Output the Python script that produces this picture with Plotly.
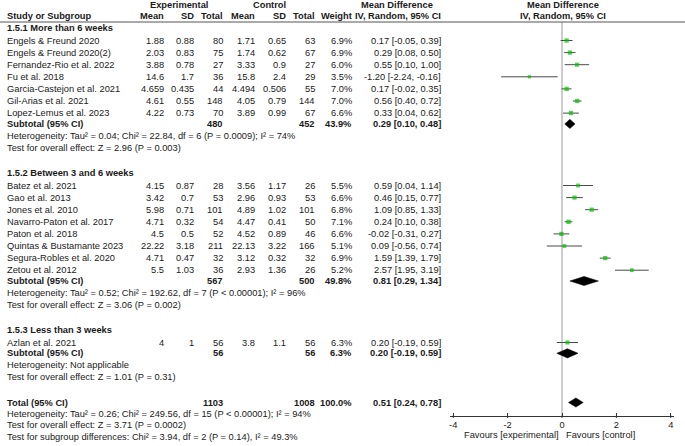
import plotly.graph_objects as go

# ---------------- data ----------------
names1 = ["Engels & Freund 2020", "Engels & Freund 2020(2)", "Fernandez-Rio et al. 2022",
          "Fu et al. 2018", "Garcia-Castejon et al. 2021", "Gil-Arias et al. 2021",
          "Lopez-Lemus et al. 2023"]
exp_mean1 = [1.88, 2.03, 3.88, 14.6, 4.659, 4.61, 4.22]
exp_sd1 = [0.88, 0.83, 0.78, 1.7, 0.435, 0.55, 0.73]
exp_n1 = [80, 75, 27, 36, 44, 148, 70]
ctl_mean1 = [1.71, 1.74, 3.33, 15.8, 4.494, 4.05, 3.89]
ctl_sd1 = [0.65, 0.62, 0.9, 2.4, 0.506, 0.79, 0.99]
ctl_n1 = [63, 67, 27, 29, 55, 144, 67]
weight1 = [6.9, 6.9, 6.0, 3.5, 7.0, 7.0, 6.6]
md1 = [0.17, 0.29, 0.55, -1.20, 0.17, 0.56, 0.33]
lo1 = [-0.05, 0.08, 0.10, -2.24, -0.02, 0.40, 0.04]
hi1 = [0.39, 0.50, 1.00, -0.16, 0.35, 0.72, 0.62]

names2 = ["Batez et al. 2021", "Gao et al. 2013", "Jones et al. 2010", "Navarro-Paton et al. 2017",
          "Paton et al. 2018", "Quintas & Bustamante 2023", "Segura-Robles et al. 2020",
          "Zetou et al. 2012"]
exp_mean2 = [4.15, 3.42, 5.98, 4.71, 4.5, 22.22, 4.71, 5.5]
exp_sd2 = [0.87, 0.7, 0.71, 0.32, 0.5, 3.18, 0.47, 1.03]
exp_n2 = [28, 53, 101, 54, 52, 211, 32, 36]
ctl_mean2 = [3.56, 2.96, 4.89, 4.47, 4.52, 22.13, 3.12, 2.93]
ctl_sd2 = [1.17, 0.93, 1.02, 0.41, 0.89, 3.22, 0.32, 1.36]
ctl_n2 = [26, 53, 101, 50, 46, 166, 32, 26]
weight2 = [5.5, 6.6, 6.8, 7.1, 6.6, 5.1, 6.9, 5.2]
md2 = [0.59, 0.46, 1.09, 0.24, -0.02, 0.09, 1.59, 2.57]
lo2 = [0.04, 0.15, 0.85, 0.10, -0.31, -0.56, 1.39, 1.95]
hi2 = [1.14, 0.77, 1.33, 0.38, 0.27, 0.74, 1.79, 3.19]

names3 = ["Azlan et al. 2021"]
exp_mean3 = [4]
exp_sd3 = [1]
exp_n3 = [56]
ctl_mean3 = [3.8]
ctl_sd3 = [1.1]
ctl_n3 = [56]
weight3 = [6.3]
md3 = [0.20]
lo3 = [-0.19]
hi3 = [0.59]

group_titles = ["1.5.1 More than 6 weeks", "1.5.2 Between 3 and 6 weeks", "1.5.3 Less than 3 weeks"]
sub_exp_n = [480, 567, 56]
sub_ctl_n = [452, 500, 56]
sub_weight = [43.9, 49.8, 6.3]
sub_md = [0.29, 0.81, 0.20]
sub_lo = [0.10, 0.29, -0.19]
sub_hi = [0.48, 1.34, 0.59]
sub_het = ["Heterogeneity: Tau² = 0.04; Chi² = 22.84, df = 6 (P = 0.0009); I² = 74%",
           "Heterogeneity: Tau² = 0.52; Chi² = 192.62, df = 7 (P < 0.00001); I² = 96%",
           "Heterogeneity: Not applicable"]
sub_test = ["Test for overall effect: Z = 2.96 (P = 0.003)",
            "Test for overall effect: Z = 3.06 (P = 0.002)",
            "Test for overall effect: Z = 1.01 (P = 0.31)"]

tot_exp_n = 1103
tot_ctl_n = 1008
tot_weight = 100.0
tot_md = 0.51
tot_lo = 0.24
tot_hi = 0.78
tot_lines = ["Heterogeneity: Tau² = 0.26; Chi² = 249.56, df = 15 (P < 0.00001); I² = 94%",
             "Test for overall effect: Z = 3.71 (P = 0.0002)",
             "Test for subgroup differences: Chi² = 3.94, df = 2 (P = 0.14), I² = 49.3%"]

tick_vals = [-4, -2, 0, 2, 4]
tick_text = ["-4", "-2", "0", "2", "4"]

groups = [
    (names1, exp_mean1, exp_sd1, exp_n1, ctl_mean1, ctl_sd1, ctl_n1, weight1, md1, lo1, hi1),
    (names2, exp_mean2, exp_sd2, exp_n2, ctl_mean2, ctl_sd2, ctl_n2, weight2, md2, lo2, hi2),
    (names3, exp_mean3, exp_sd3, exp_n3, ctl_mean3, ctl_sd3, ctl_n3, weight3, md3, lo3, hi3),
]

# ---------------- layout (pixel geometry) ----------------
W, H = 685, 446
FONT = "Liberation Sans, Arial, sans-serif"
FS = 9.3
TXT = "#1a1a1a"
X_LEFT = 7
X_EM, X_ESD, X_EN = 164, 194, 223
X_CM, X_CSD, X_CN = 255, 286, 315
X_WT, X_CI = 352, 441
Y_HDR1, Y_HDR2, Y_LINE = 4.5, 15.5, 22
AX_Y = 415.5

group_head_y = [28, 173, 329.5]
group_row0_y = [40.5, 185.5, 342.5]
PITCH = 12.1

ann = []


def txt(x, y, s, anchor="right", bold=False):
    if bold:
        s = "<b>" + s + "</b>"
    ann.append(dict(x=x / W, xref="paper", y=y, yref="y", text=s, showarrow=False,
                    xanchor=anchor, yanchor="middle", borderpad=0, borderwidth=0,
                    font=dict(family=FONT, size=FS, color=TXT)))


def fmt_ci(m, l, h):
    return f"{m:.2f} [{l:.2f}, {h:.2f}]"


# headers
txt(178.5, Y_HDR1, "Experimental", "center", True)
txt(269, Y_HDR1, "Control", "center", True)
txt(397, Y_HDR1, "Mean Difference", "center", True)
txt(563, Y_HDR1, "Mean Difference", "center", True)
txt(X_LEFT, Y_HDR2, "Study or Subgroup", "left", True)
for x, s in [(X_EM, "Mean"), (X_ESD, "SD"), (X_EN, "Total"), (X_CM, "Mean"), (X_CSD, "SD"),
             (X_CN, "Total"), (X_WT, "Weight"), (X_CI, "IV, Random, 95% CI")]:
    txt(x, Y_HDR2, s, "right", True)
txt(563, Y_HDR2, "IV, Random, 95% CI", "center", True)

fig = go.Figure()

ci_x, ci_y = [], []
pt_x, pt_y, pt_s = [], [], []
diamonds = []

for gi, g in enumerate(groups):
    names, em, esd, en, cm, csd, cn, wt, md, lo, hi = g
    txt(X_LEFT, group_head_y[gi], group_titles[gi], "left", True)
    y = group_row0_y[gi]
    for i in range(len(names)):
        y = group_row0_y[gi] + PITCH * i
        txt(X_LEFT, y, names[i], "left")
        txt(X_EM, y, f"{em[i]:g}")
        txt(X_ESD, y, f"{esd[i]:g}")
        txt(X_EN, y, str(en[i]))
        txt(X_CM, y, f"{cm[i]:g}")
        txt(X_CSD, y, f"{csd[i]:g}")
        txt(X_CN, y, str(cn[i]))
        txt(X_WT, y, f"{wt[i]:.1f}%")
        txt(X_CI, y, fmt_ci(md[i], lo[i], hi[i]))
        ci_x += [lo[i], hi[i], None]
        ci_y += [y, y, None]
        pt_x.append(md[i]); pt_y.append(y); pt_s.append(2.2 + wt[i] * 0.3)
    ys = y + 10.8
    txt(X_LEFT, ys, "Subtotal (95% CI)", "left", True)
    txt(X_EN, ys, str(sub_exp_n[gi]), bold=True)
    txt(X_CN, ys, str(sub_ctl_n[gi]), bold=True)
    txt(X_WT, ys, f"{sub_weight[gi]:.1f}%", bold=True)
    txt(X_CI, ys, fmt_ci(sub_md[gi], sub_lo[gi], sub_hi[gi]), bold=True)
    diamonds.append((sub_md[gi], sub_lo[gi], sub_hi[gi], ys))
    txt(X_LEFT, ys + 12, sub_het[gi], "left")
    txt(X_LEFT, ys + 24, sub_test[gi], "left")

Y_TOT = 402.5
txt(X_LEFT, Y_TOT, "Total (95% CI)", "left", True)
txt(X_EN, Y_TOT, str(tot_exp_n), bold=True)
txt(X_CN, Y_TOT, str(tot_ctl_n), bold=True)
txt(X_WT, Y_TOT, f"{tot_weight:.1f}%", bold=True)
txt(X_CI, Y_TOT, fmt_ci(tot_md, tot_lo, tot_hi), bold=True)
diamonds.append((tot_md, tot_lo, tot_hi, Y_TOT))
for k, s in enumerate(tot_lines):
    txt(X_LEFT, Y_TOT + 11.5 + 11.3 * k, s, "left")

txt(559, 435, "Favours [experimental]", "right")
txt(566, 435, "Favours [control]", "left")

# zero line
fig.add_trace(go.Scatter(x=[0, 0], y=[Y_LINE, AX_Y], mode="lines",
                         line=dict(color="#9a9a9a", width=1), hoverinfo="skip"))
# CI lines
fig.add_trace(go.Scatter(x=ci_x, y=ci_y, mode="lines", line=dict(color="#4a4a4a", width=1),
                         hoverinfo="skip"))
# point estimates
fig.add_trace(go.Scatter(x=pt_x, y=pt_y, mode="markers",
                         marker=dict(symbol="square", size=pt_s, color="#00c000",
                                     line=dict(width=0)), hoverinfo="skip"))
# diamonds
for m, l, h, yy in diamonds:
    hh = 4.6
    fig.add_trace(go.Scatter(x=[l, m, h, m, l], y=[yy, yy - hh, yy, yy + hh, yy], mode="lines",
                             fill="toself", fillcolor="black", line=dict(color="black", width=0.5),
                             hoverinfo="skip"))
# lower halves of the axis ticks (ticks cross the axis line)
tk_x, tk_y = [], []
for v in tick_vals:
    tk_x += [v, v, None]
    tk_y += [AX_Y, AX_Y + 2.5, None]
fig.add_trace(go.Scatter(x=tk_x, y=tk_y, mode="lines", line=dict(color="#333333", width=1),
                         hoverinfo="skip", cliponaxis=False))

# header rule
fig.add_shape(type="line", xref="paper", yref="y", x0=0, x1=1, y0=Y_LINE, y1=Y_LINE,
              line=dict(color="#555555", width=1))

fig.update_layout(
    width=W, height=H, margin=dict(l=0, r=0, t=0, b=0),
    paper_bgcolor="white", plot_bgcolor="white", showlegend=False,
    annotations=ann,
    xaxis=dict(domain=[450 / W, 674 / W], range=[-4.12, 4.12], anchor="free",
               position=(H - AX_Y) / H, showline=True, linecolor="#333333", linewidth=1,
               ticks="inside", ticklen=3, tickcolor="#333333", tickvals=tick_vals,
               ticktext=tick_text, showgrid=False, zeroline=False,
               tickfont=dict(family=FONT, size=FS, color=TXT)),
    yaxis=dict(domain=[0, 1], range=[H, 0], visible=False, showgrid=False, zeroline=False),
)

fig.write_html("out.html", config={"displayModeBar": False},
               post_script="document.body.style.margin='0';document.body.style.overflow='hidden';")
